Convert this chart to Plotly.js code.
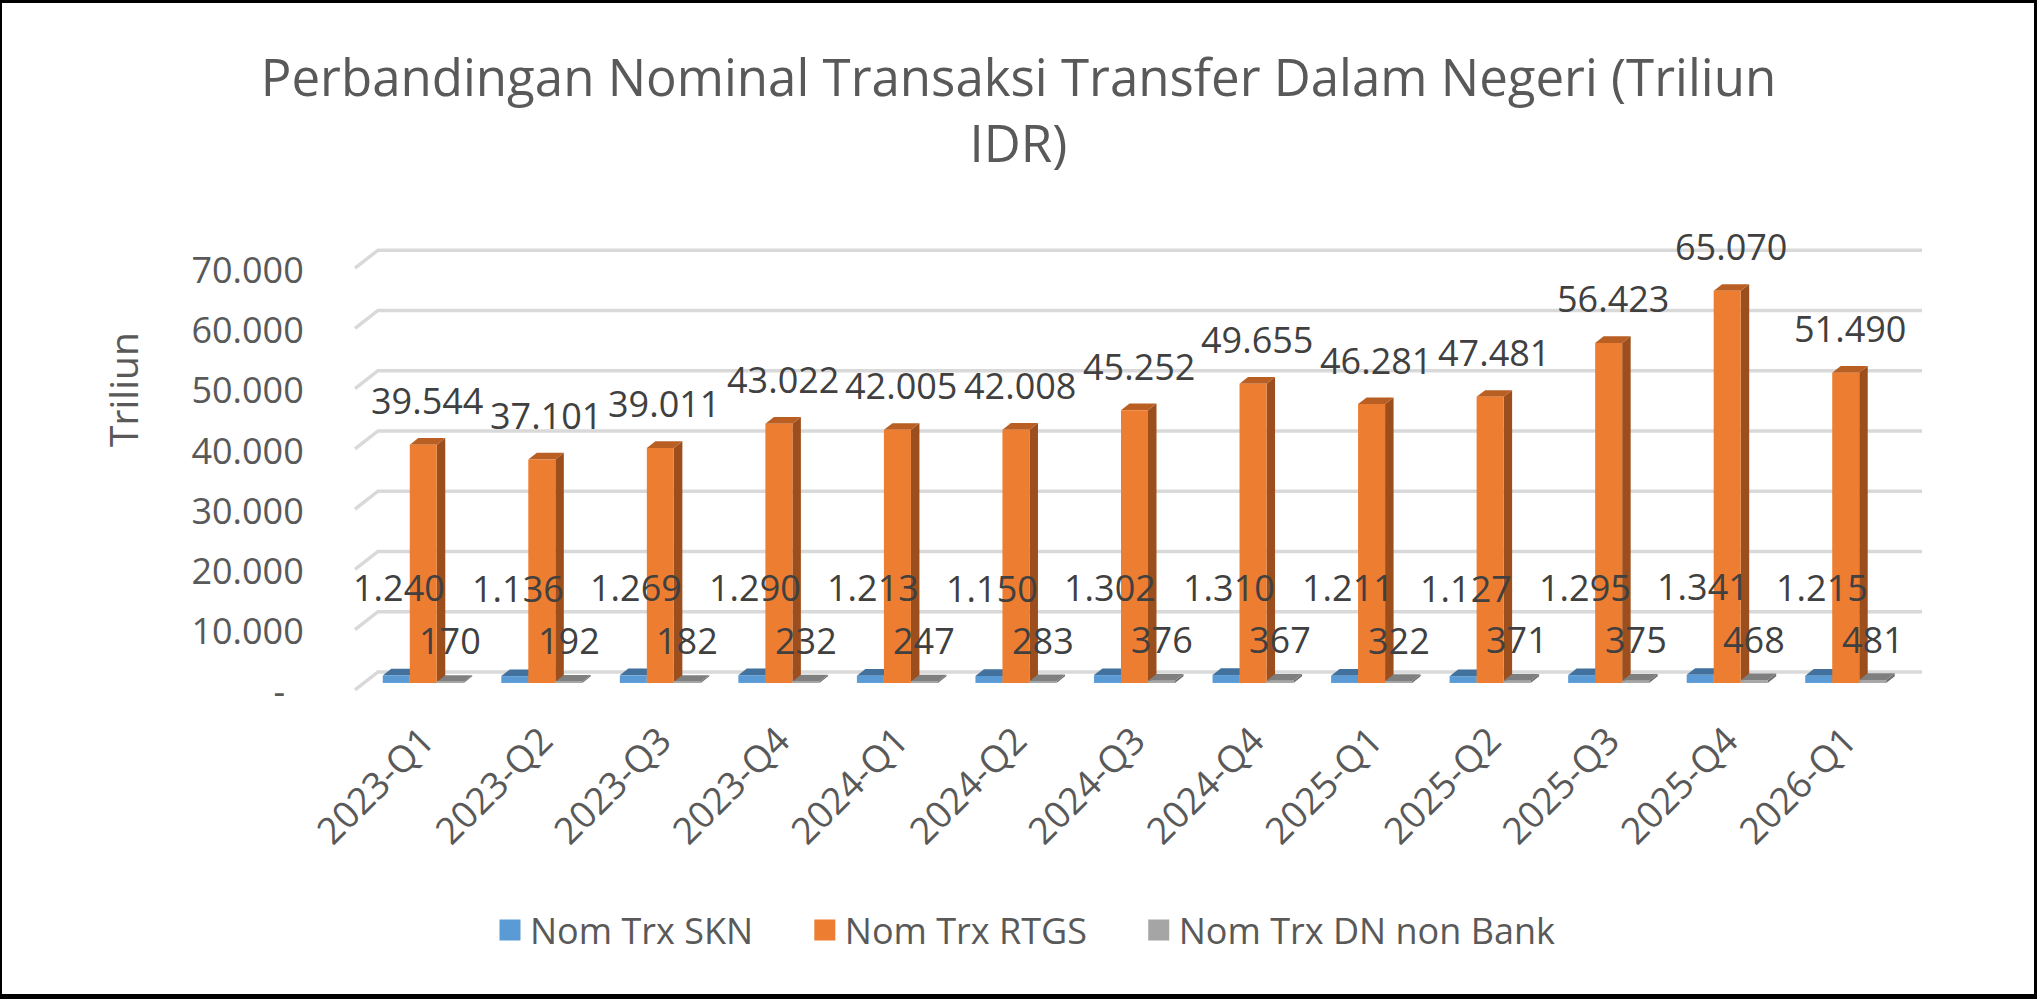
<!DOCTYPE html>
<html>
<head>
<meta charset="utf-8">
<script src="https://cdn.plot.ly/plotly-3.0.1.min.js"></script>
<style>
html,body{margin:0;padding:0;background:#fff;overflow:hidden}
#chart{position:absolute;left:0;top:0;width:2037px;height:999px}
#frame{position:absolute;left:0;top:0;width:2037px;height:999px;box-sizing:border-box;border-style:solid;border-color:#000;border-width:3px 3px 5px 2px;pointer-events:none}
</style>
</head>
<body>
<div id="chart"></div>
<div id="frame"></div>
<script>
// ---- data ----
const categories = ['2023-Q1','2023-Q2','2023-Q3','2023-Q4','2024-Q1','2024-Q2','2024-Q3','2024-Q4','2025-Q1','2025-Q2','2025-Q3','2025-Q4','2026-Q1'];
const nomTrxSKN = [1240,1136,1269,1290,1213,1150,1302,1310,1211,1127,1295,1341,1215];
const nomTrxRTGS = [39544,37101,39011,43022,42005,42008,45252,49655,46281,47481,56423,65070,51490];
const nomTrxDNnonBank = [170,192,182,232,247,283,376,367,322,371,375,468,481];
const seriesNames = ['Nom Trx SKN','Nom Trx RTGS','Nom Trx DN non Bank'];
const yTickVals = [0,10000,20000,30000,40000,50000,60000,70000];
const yTickText = ['-\u00a0\u00a0','10.000','20.000','30.000','40.000','50.000','60.000','70.000'];
const chartTitle = 'Perbandingan Nominal Transaksi Transfer Dalam Negeri (Triliun<br>IDR)';
const yTitle = 'Triliun';

// ---- style ----
const FONT = '"Open Sans", "Noto Sans", sans-serif';
const W = 2037, H = 999;
const M = {l:364, r:132, t:225, b:304};
const yRange = [-2000, 76000];
const plotW = W - M.l - M.r, plotH = H - M.t - M.b;
const pxPerCat = plotW / categories.length;
const pxPerUnit = plotH / (yRange[1] - yRange[0]);
const bargap = 0.3165;
const barW = (1 - bargap) / 3;
const dX = 8.5 / pxPerCat, dY = 6.7 / pxPerUnit;      // bar depth
const frontShift = 9 / pxPerUnit;                       // front plane below bar plane
const backShift = 11 / pxPerUnit;                       // back wall above bar plane
const front = ['#5b9bd5','#ed7d31','#a5a5a5'];
const topC  = ['#41719c','#b95f24','#7f7f7f'];
const sideC = ['#3d6a93','#9c4f1d','#6f6f6f'];
const series = [nomTrxSKN, nomTrxRTGS, nomTrxDNnonBank];
const fmt = v => String(v).replace(/\B(?=(\d{3})+(?!\d))/g, '.');
const xIdx = categories.map((c, i) => i);

const traces = [];
series.forEach((vals, s) => {
  traces.push({
    type:'bar', x:xIdx, y:vals, name:seriesNames[s], showlegend:false,
    marker:{color:front[s], line:{width:0}},
    hovertemplate: '%{customdata}<br>' + seriesNames[s] + ': %{y}<extra></extra>',
    customdata: categories
  });
});
// legend entries
series.forEach((vals, s) => {
  traces.push({
    type:'scatter', mode:'markers', x:[null], y:[null], name:seriesNames[s] + '\u00a0\u00a0\u00a0\u00a0\u00a0',
    marker:{symbol:'square', size:16, color:front[s], line:{color:front[s], width:5}},
    hoverinfo:'skip'
  });
});
traces.push({type:'scatter', x:[null], y:[null], yaxis:'y2', showlegend:false, hoverinfo:'skip'});
traces.push({type:'scatter', x:[null], y:[null], yaxis:'y3', showlegend:false, hoverinfo:'skip'});

// ---- shapes: 3D back wall grid + bar depth faces ----
const shapes = [];
const px2paper = px => (px - M.l) / plotW;
yTickVals.forEach(v => {
  const yb = v + backShift, yf = v - 7 / pxPerUnit;
  shapes.push({type:'path', xref:'paper', yref:'y', layer:'below',
    path:`M ${px2paper(355)},${yf} L ${px2paper(378)},${yb} L ${px2paper(1922)},${yb}`,
    line:{color:'#d9d9d9', width:3.5}});
});
[1, 2, 0].forEach(s => {
  const vals = series[s];
  vals.forEach((v, i) => {
    const x0 = i + (s - 1) * barW - barW / 2, x1 = x0 + barW;
    shapes.push({type:'path', xref:'x', yref:'y', layer:'below',
      path:`M ${x1},0 L ${x1 + dX},${dY} L ${x1 + dX},${v + dY} L ${x1},${v} Z`,
      fillcolor:sideC[s], line:{width:0}});
    shapes.push({type:'path', xref:'x', yref:'y', layer:'below',
      path:`M ${x0},${v} L ${x0 + dX},${v + dY} L ${x1 + dX},${v + dY} L ${x1},${v} Z`,
      fillcolor:topC[s], line:{width:0}});
  });
});

// ---- data labels ----
const labelShift = [{x:3, y:88}, {x:4, y:44}, {x:0, y:41}];
const annotations = [];
series.forEach((vals, s) => {
  vals.forEach((v, i) => {
    annotations.push({x: i + (s - 1) * barW, y: v, xref:'x', yref:'y', text: fmt(v),
      showarrow:false, xanchor:'center', yanchor:'middle',
      xshift: labelShift[s].x, yshift: labelShift[s].y,
      font:{family:FONT, size:36, color:'#404040'}});
  });
});

const layout = {
  width: W, height: H,
  margin: M,
  paper_bgcolor:'#ffffff', plot_bgcolor:'rgba(0,0,0,0)',
  font:{family:FONT, color:'#595959'},
  title:{text:chartTitle, font:{family:FONT, size:51, color:'#595959'},
    x:0.5, xref:'container', xanchor:'center', y:0.904, yref:'container', yanchor:'top'},
  barmode:'group', bargap: bargap, bargroupgap: 0,
  xaxis:{type:'linear', range:[-0.5, categories.length - 0.5], tickmode:'array', tickvals:xIdx, ticktext:categories,
    tickangle:-45, ticks:'outside', ticklen:8, tickcolor:'rgba(0,0,0,0)',
    showgrid:false, zeroline:false, showline:false, fixedrange:true,
    tickfont:{family:FONT, size:37, color:'#595959'}},
  yaxis:{range:yRange, showgrid:false, zeroline:false, showline:false, showticklabels:false, ticks:'', fixedrange:true},
  yaxis2:{overlaying:'y', side:'left', anchor:'x', range:[yRange[0] + frontShift, yRange[1] + frontShift],
    tickmode:'array', tickvals:yTickVals, ticktext:yTickText, ticks:'outside', ticklen:52, tickcolor:'rgba(0,0,0,0)',
    showgrid:false, zeroline:false, showline:false, fixedrange:true,
    tickfont:{family:FONT, size:36, color:'#595959'}},
  yaxis3:{domain:[0.30, 1], anchor:'free', position:0, range:[0,1], showgrid:false, zeroline:false, showline:false,
    showticklabels:false, ticks:'', fixedrange:true,
    title:{text:yTitle, standoff:212, font:{family:FONT, size:39, color:'#595959'}}},
  legend:{orientation:'h', xref:'container', yref:'container', x:490 / W, xanchor:'left', y:1 - 930 / H, yanchor:'middle',
    font:{family:FONT, size:36, color:'#595959'}, bgcolor:'rgba(0,0,0,0)', itemclick:false, itemdoubleclick:false},
  shapes: shapes,
  annotations: annotations,
  hovermode:'closest'
};

Plotly.newPlot('chart', traces, layout, {displayModeBar:false, responsive:false});
</script>
</body>
</html>
